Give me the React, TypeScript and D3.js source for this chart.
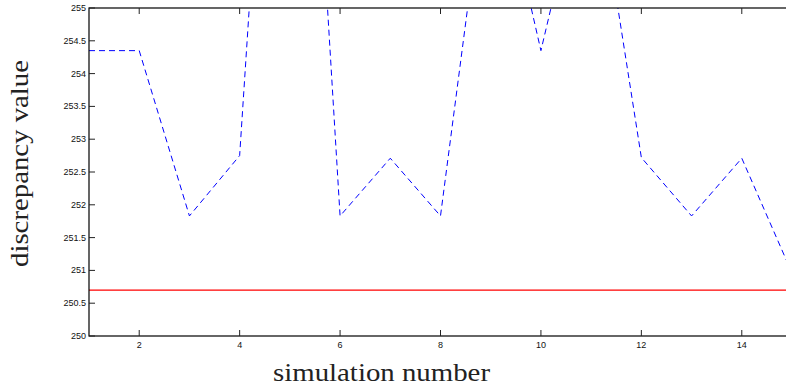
import React from "react";
import * as d3 from "d3";

const simulations = [1, 2, 3, 4, 5, 6, 7, 8, 9, 10, 11, 12, 13, 14, 15];
const discrepancyBlue = [254.35, 254.35, 251.83, 252.75, 264.5, 251.83, 252.71, 251.83, 257.7, 254.35, 257.6, 252.72, 251.83, 252.71, 250.96];
const discrepancyRed = [250.7, 250.7, 250.7, 250.7, 250.7, 250.7, 250.7, 250.7, 250.7, 250.7, 250.7, 250.7, 250.7, 250.7, 250.7];
const xTicks = [2, 4, 6, 8, 10, 12, 14];
const yTicks = [250, 250.5, 251, 251.5, 252, 252.5, 253, 253.5, 254, 254.5, 255];

const W = 786;
const H = 387;
const left = 89;
const right = 792;
const top = 8;
const bottom = 336;

export default function App() {
  const x = d3.scaleLinear().domain([1, 15]).range([left, right]);
  const y = d3.scaleLinear().domain([250, 255]).range([bottom, top]);
  const line = d3
    .line<number>()
    .x((_, i) => x(simulations[i]))
    .y((d) => y(d));
  const tl = 6;
  return (
    <svg
      width={W}
      height={H}
      style={{ position: "absolute", left: 0, top: 0, background: "#fff" }}
    >
      <defs>
        <clipPath id="plotclip">
          <rect x={left} y={top} width={right - left} height={bottom - top} />
        </clipPath>
      </defs>
      <rect x={0} y={0} width={W} height={H} fill="#fff" />
      <g clipPath="url(#plotclip)">
        <path d={line(discrepancyRed) || ""} fill="none" stroke="#ff0000" strokeWidth={1.2} />
        <path
          d={line(discrepancyBlue) || ""}
          fill="none"
          stroke="#0000ff"
          strokeWidth={1}
          strokeDasharray="6,4"
        />
      </g>
      {/* axes box */}
      <rect x={left} y={top} width={right - left} height={bottom - top} fill="none" stroke="#000" strokeWidth={1.2} />
      {xTicks.map((t) => (
        <g key={"x" + t}>
          <line x1={x(t)} x2={x(t)} y1={bottom} y2={bottom - tl} stroke="#222" strokeWidth={1} />
          <line x1={x(t)} x2={x(t)} y1={top} y2={top + tl} stroke="#222" strokeWidth={1} />
          <text
            x={x(t)}
            y={bottom + 12}
            textAnchor="middle"
            fontFamily="'Liberation Sans', Arial, sans-serif"
            fontSize={9}
            fill="#111"
          >
            {t}
          </text>
        </g>
      ))}
      {yTicks.map((t) => (
        <g key={"y" + t}>
          <line x1={left} x2={left + tl} y1={y(t)} y2={y(t)} stroke="#222" strokeWidth={1} />
          <line x1={right} x2={right - tl} y1={y(t)} y2={y(t)} stroke="#222" strokeWidth={1} />
          <text
            x={left - 3}
            y={y(t) + 3}
            textAnchor="end"
            fontFamily="'Liberation Sans', Arial, sans-serif"
            fontSize={9}
            fill="#111"
          >
            {t}
          </text>
        </g>
      ))}
      <text
        x={381.5}
        y={381}
        textAnchor="middle"
        fontFamily="'Liberation Serif', 'DejaVu Serif', serif"
        fontSize={26}
        fill="#222"
        textLength={217}
        lengthAdjust="spacingAndGlyphs"
      >
        simulation number
      </text>
      <text
        transform={`translate(28,163.5) rotate(-90)`}
        textAnchor="middle"
        fontFamily="'Liberation Serif', 'DejaVu Serif', serif"
        fontSize={26}
        fill="#222"
        textLength={207}
        lengthAdjust="spacingAndGlyphs"
      >
        discrepancy value
      </text>
    </svg>
  );
}
